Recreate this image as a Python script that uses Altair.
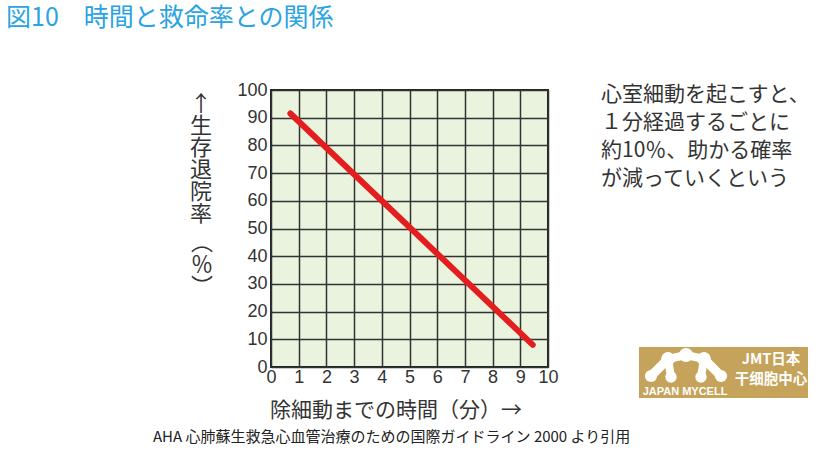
import altair as alt
import pandas as pd

# ---- data ----
minutes = [0.7, 9.45]
survival = [91.5, 8.0]
x_ticks = list(range(0, 11))
y_ticks = list(range(0, 101, 10))

title_text = "図10　時間と救命率との関係"
y_title_main = ["↑", "生", "存", "退", "院", "率"]
y_title_paren = ["︵", "％", "︶"]
x_title = "除細動までの時間（分）→"
source_text = "AHA 心肺蘇生救急心血管治療のための国際ガイドライン 2000 より引用"
note_lines = ["心室細動を起こすと、", "１分経過するごとに", "約10％、助かる確率", "が減っていくという"]
logo_en = "JAPAN MYCELL"
logo_cn = ["JMT日本", "干细胞中心"]

JP = "Noto Sans CJK JP"
W, H = 277, 277
OX, OY = 271, 90  # plot origin in page

df = pd.DataFrame({"min": minutes, "rate": survival})

xs = alt.Scale(domain=[0, 10], nice=False)
ys = alt.Scale(domain=[0, 100], nice=False)

line = alt.Chart(df).mark_line(color="#e41e1e", strokeWidth=6, strokeCap="round").encode(
    x=alt.X("min:Q", scale=xs,
            axis=alt.Axis(values=x_ticks, title=None, grid=True, gridColor="#333", gridWidth=1.5,
                          gridOpacity=1, ticks=False, domain=False, labelFont="Liberation Sans",
                          labelFontSize=18, labelColor="#333", labelPadding=1, labelFlush=False)),
    y=alt.Y("rate:Q", scale=ys,
            axis=alt.Axis(values=y_ticks, title=None, grid=True, gridColor="#333", gridWidth=1.5,
                          gridOpacity=1, ticks=False, domain=False, labelFont="Liberation Sans",
                          labelFontSize=18, labelColor="#333", labelPadding=4, labelFlush=False)),
)

def txt(text, x, y, size, color="#333", align="left", baseline="middle", weight="normal", lh=None, font=JP):
    kw = dict(align=align, baseline=baseline, fontSize=size, color=color, font=font, fontWeight=weight)
    if lh is not None:
        kw["lineHeight"] = lh
    return alt.Chart(alt.Data(values=[{}])).mark_text(**kw).encode(
        x=alt.value(x - OX), y=alt.value(y - OY), text=alt.value(text))

layers = [line]
layers.append(txt(title_text, 6, 18, 25, color="#2aa3e2", baseline="middle"))
layers.append(txt(y_title_main, 201, 94, 22, color="#333", align="center", baseline="top", lh=22))
for ch, yy in zip(y_title_paren, [243, 265, 287]):
    layers.append(txt(ch, 202, yy, 22, color="#333", align="center", baseline="middle"))
layers.append(txt(x_title, 396, 411, 21, color="#333", align="center"))
layers.append(txt(source_text, 153, 437, 15, color="#222"))
layers.append(txt(note_lines, 601, 84, 21, color="#333", baseline="top", lh=28))

# logo box
logo_rect = alt.Chart(alt.Data(values=[{}])).mark_rect(color="#c5a35a").encode(
    x=alt.value(639 - OX), x2=alt.value(808 - OX), y=alt.value(347 - OY), y2=alt.value(398 - OY))
layers.append(logo_rect)
nodes = {"A": (651, 376), "B": (668, 359), "C": (686, 355), "D": (704, 359), "E": (721, 376),
         "F": (671, 377), "G": (701, 377)}
edges = [("A", "B", 9), ("B", "C", 8), ("C", "D", 8), ("D", "E", 9), ("B", "F", 8), ("D", "G", 8)]
for a, b, w in edges:
    (x1, y1), (x2, y2) = nodes[a], nodes[b]
    layers.append(alt.Chart(alt.Data(values=[{}])).mark_rule(color="white", strokeWidth=w, strokeCap="round").encode(
        x=alt.value(x1 - OX), y=alt.value(y1 - OY), x2=alt.value(x2 - OX), y2=alt.value(y2 - OY)))
sizes = {"A": 150, "B": 190, "C": 200, "D": 190, "E": 150, "F": 130, "G": 130}
for k, (cx, cy) in nodes.items():
    layers.append(alt.Chart(alt.Data(values=[{}])).mark_circle(color="white", opacity=1, size=sizes[k]).encode(
        x=alt.value(cx - OX), y=alt.value(cy - OY)))
layers.append(txt(logo_en, 685, 392, 11, color="white", align="center", weight="bold", font="Liberation Sans"))
layers.append(txt(logo_cn, 771, 360, 14.5, color="white", align="center", baseline="middle", weight="bold", lh=20))

chart = alt.layer(*layers).properties(
    width=W, height=H,
    autosize=alt.AutoSizeParams(type="none"),
    padding={"left": OX, "top": OY, "right": 820 - OX - W, "bottom": 453 - OY - H},
    background="white",
).configure_view(fill="#e9f3dd", stroke="#222", strokeWidth=2)

chart.save("out.html", embed_options={"renderer": "svg", "actions": False})
